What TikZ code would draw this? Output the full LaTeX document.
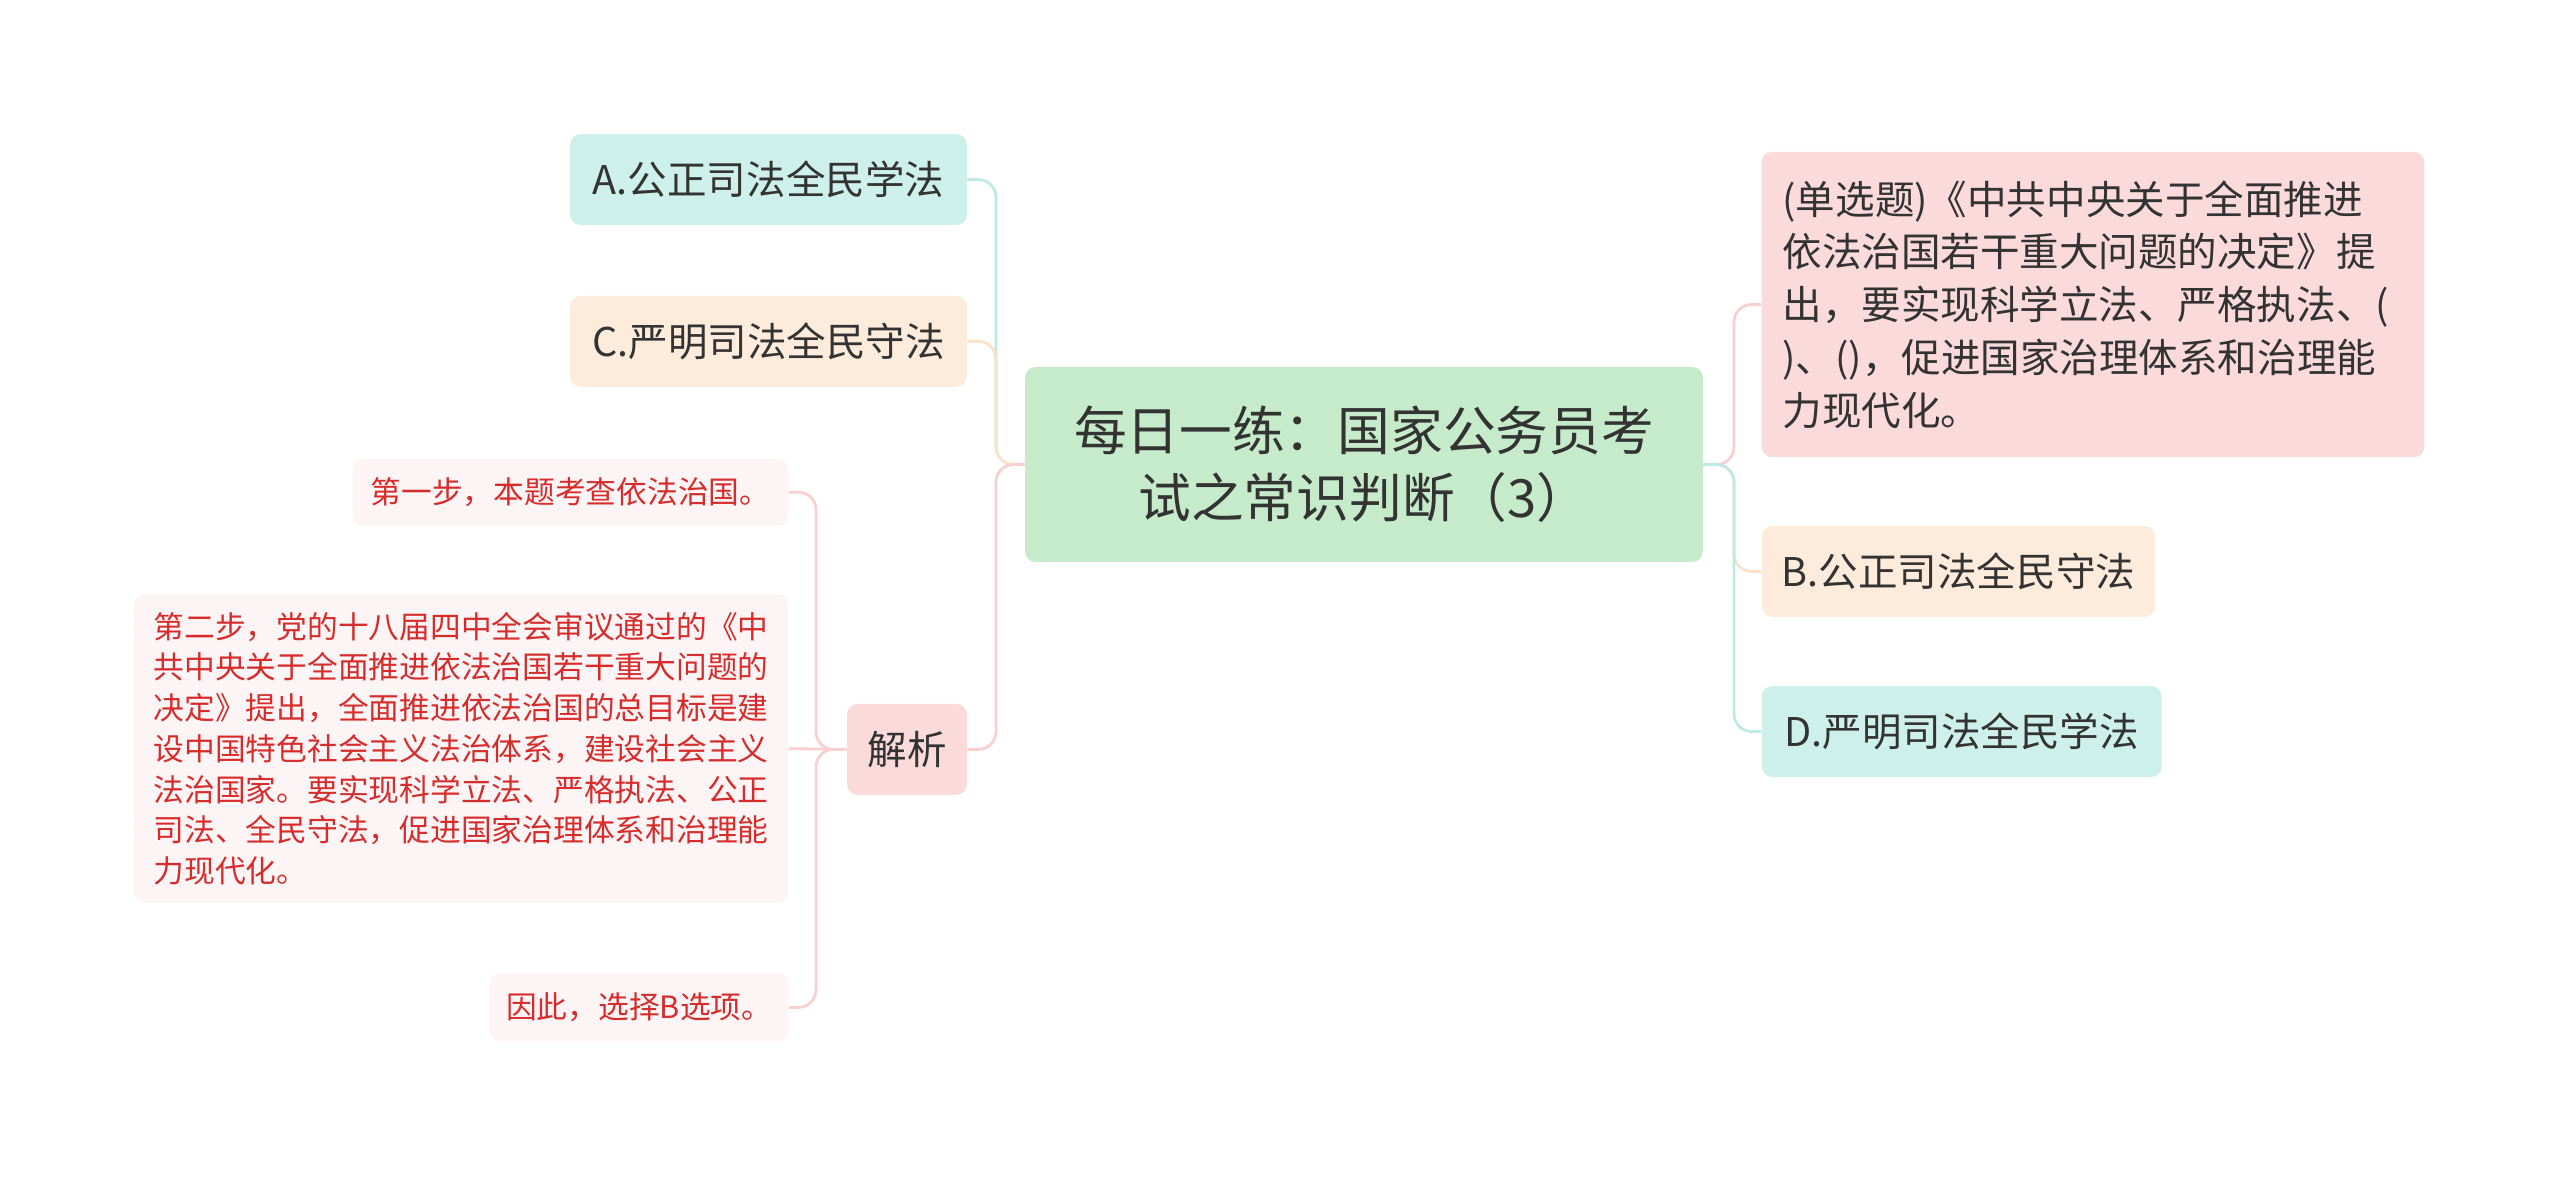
\documentclass[tikz,border=0pt]{standalone}
\usepackage{fontspec}
\setmainfont{Noto Sans CJK SC}
\usepackage{tikz}
\usetikzlibrary{positioning}
\usepackage{xcolor}

\definecolor{txtdark}{RGB}{51,51,51}
\definecolor{txtred}{RGB}{214,44,44}
\definecolor{rootfill}{RGB}{198,235,203}
\definecolor{tealfill}{RGB}{205,240,234}
\definecolor{peachfill}{RGB}{253,236,220}
\definecolor{pinkfill}{RGB}{250,218,218}
\definecolor{palefill}{RGB}{253,245,245}
\definecolor{tealline}{RGB}{190,234,227}
\definecolor{peachline}{RGB}{252,226,200}
\definecolor{pinkline}{RGB}{248,208,208}

\begin{document}
\begin{tikzpicture}[x=0.02cm, y=-0.02cm,
    box/.style={rectangle, rounded corners=6pt, inner sep=0pt, text=txtdark},
    topic/.style={box, fill=rootfill, align=center, font=\fontsize{30}{38}\selectfont},
    choice/.style={box, font=\fontsize{22.5}{30}\selectfont, minimum height=1.82cm},
    note/.style={box, fill=palefill, text=txtred, align=left, font=\fontsize{17.5}{23.2}\selectfont},
    link/.style={line width=1.6pt, rounded corners=10pt}]
    \useasboundingbox (0,0) rectangle (2560,1177);

    % central topic
    \node[topic, minimum width=13.56cm, minimum height=3.9cm] (root) at (1364,464.5) {每日一练：国家公务员考\\试之常识判断（3）};

    % left branches
    \node[choice, fill=tealfill, minimum width=7.94cm] (optA) at (768.5,179.6) {A.公正司法全民学法};
    \node[choice, fill=peachfill, minimum width=7.94cm] (optC) at (768.5,341.3) {C.严明司法全民守法};
    \node[choice, fill=pinkfill, minimum width=2.4cm] (jiexi) at (907,749.4) {解析};

    % explanation steps
    \node[note, minimum width=8.72cm, minimum height=1.34cm] (step1) at (570.6,492.2) {第一步，本题考查依法治国。};
    \node[note, minimum width=13.09cm, minimum height=6.17cm] (step2) at (461.2,748.6) {第二步，党的十八届四中全会审议通过的《中\\共中央关于全面推进依法治国若干重大问题的\\决定》提出，全面推进依法治国的总目标是建\\设中国特色社会主义法治体系，建设社会主义\\法治国家。要实现科学立法、严格执法、公正\\司法、全民守法，促进国家治理体系和治理能\\力现代化。};
    \node[note, minimum width=5.98cm, minimum height=1.37cm] (step3) at (639.2,1007.4) {因此，选择B选项。};

    % right branches
    \node[choice, fill=pinkfill, align=left, inner xsep=0.42cm, text width=12.42cm, minimum height=6.11cm] (question) at (2093,304.5) {(单选题)《中共中央关于全面推进\\依法治国若干重大问题的决定》提\\出，要实现科学立法、严格执法、(\\)、()，促进国家治理体系和治理能\\力现代化。};
    \node[choice, fill=peachfill, minimum width=7.87cm] (optB) at (1958.5,571.4) {B.公正司法全民守法};
    \node[choice, fill=tealfill, minimum width=8.0cm] (optD) at (1961.7,731.5) {D.严明司法全民学法};

    \coordinate (ltrunk) at (996,464.5);
    \coordinate (rtrunk) at (1734,464.5);
    \coordinate (jtrunk) at (816,749.4);

    \draw[link, tealline] (root.west) -- (ltrunk) |- (optA.east);
    \draw[link, peachline] (root.west) -- (ltrunk) |- (optC.east);
    \draw[link, pinkline] (root.west) -- (ltrunk) |- (jiexi.east);

    \draw[link, pinkline] (root.east) -- (rtrunk) |- (question.west);
    \draw[link, peachline] (root.east) -- (rtrunk) |- (optB.west);
    \draw[link, tealline] (root.east) -- (rtrunk) |- (optD.west);

    \draw[link, pinkline] (jiexi.west) -- (jtrunk) |- (step1.east);
    \draw[link, pinkline] (jiexi.west) -- (step2.east);
    \draw[link, pinkline] (jiexi.west) -- (jtrunk) |- (step3.east);
\end{tikzpicture}
\end{document}
